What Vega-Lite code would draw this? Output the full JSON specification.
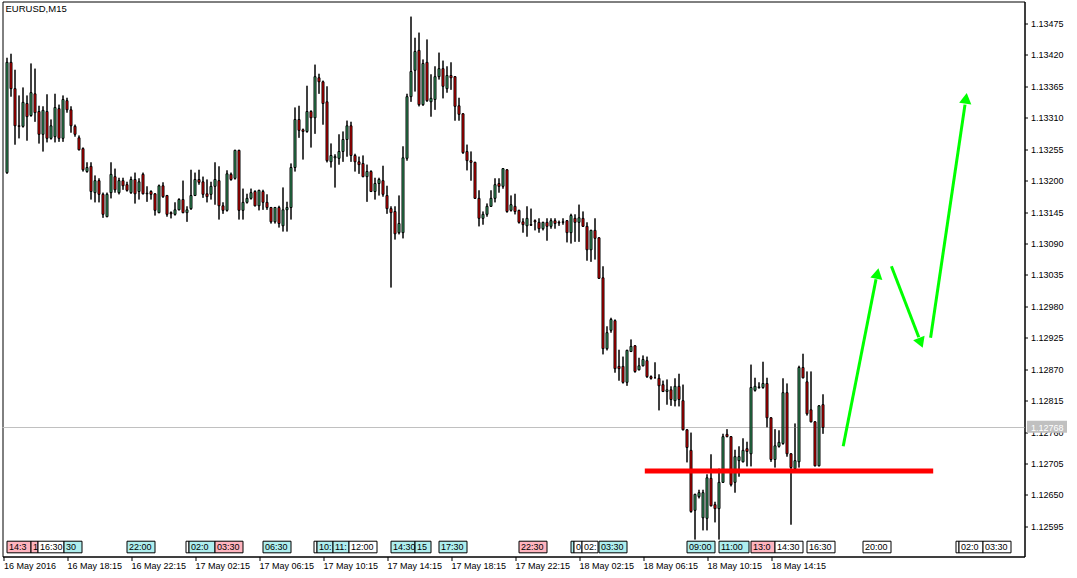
{
"$schema":"https://vega.github.io/schema/vega-lite/v6.json",
"width":1022,"height":555,
"autosize":{"type":"pad"},
"padding":{"left":1.5,"top":1.5,"right":0,"bottom":0},
"background":"white",
"title":{"text":"EURUSD,M15","anchor":"start","frame":"group","offset":-12,"dx":3,"fontSize":9.5,"fontWeight":"normal","font":"Liberation Sans","color":"black"},
"config":{"view":{"stroke":"black","strokeWidth":1},"font":"Liberation Sans"},
"datasets":{
"candles":[
{"i":0,"o":1.13214,"h":1.13415,"l":1.13212,"c":1.13407},
{"i":1,"o":1.13407,"h":1.13422,"l":1.13347,"c":1.13361},
{"i":2,"o":1.13361,"h":1.13394,"l":1.13263,"c":1.13296},
{"i":3,"o":1.13296,"h":1.13349,"l":1.13274,"c":1.13295},
{"i":4,"o":1.13295,"h":1.13363,"l":1.13293,"c":1.13337},
{"i":5,"o":1.13335,"h":1.13349,"l":1.13270,"c":1.13312},
{"i":6,"o":1.13314,"h":1.13405,"l":1.13312,"c":1.13354},
{"i":7,"o":1.13352,"h":1.13396,"l":1.13303,"c":1.13319},
{"i":8,"o":1.13321,"h":1.13331,"l":1.13265,"c":1.13281},
{"i":9,"o":1.13281,"h":1.13330,"l":1.13251,"c":1.13323},
{"i":10,"o":1.13321,"h":1.13351,"l":1.13267,"c":1.13274},
{"i":11,"o":1.13274,"h":1.13307,"l":1.13272,"c":1.13296},
{"i":12,"o":1.13277,"h":1.13352,"l":1.13267,"c":1.13328},
{"i":13,"o":1.13326,"h":1.13333,"l":1.13268,"c":1.13274},
{"i":14,"o":1.13274,"h":1.13349,"l":1.13268,"c":1.13342},
{"i":15,"o":1.13340,"h":1.13345,"l":1.13319,"c":1.13324},
{"i":16,"o":1.13324,"h":1.13330,"l":1.13284,"c":1.13296},
{"i":17,"o":1.13295,"h":1.13298,"l":1.13277,"c":1.13281},
{"i":18,"o":1.13275,"h":1.13279,"l":1.13253,"c":1.13254},
{"i":19,"o":1.13256,"h":1.13258,"l":1.13216,"c":1.13219},
{"i":20,"o":1.13216,"h":1.13232,"l":1.13214,"c":1.13223},
{"i":21,"o":1.13225,"h":1.13232,"l":1.13167,"c":1.13181},
{"i":22,"o":1.13179,"h":1.13209,"l":1.13162,"c":1.13200},
{"i":23,"o":1.13200,"h":1.13204,"l":1.13162,"c":1.13176},
{"i":24,"o":1.13176,"h":1.13179,"l":1.13135,"c":1.13141},
{"i":25,"o":1.13137,"h":1.13179,"l":1.13136,"c":1.13176},
{"i":26,"o":1.13179,"h":1.13232,"l":1.13169,"c":1.13211},
{"i":27,"o":1.13207,"h":1.13221,"l":1.13179,"c":1.13184},
{"i":28,"o":1.13179,"h":1.13205,"l":1.13176,"c":1.13200},
{"i":29,"o":1.13200,"h":1.13205,"l":1.13184,"c":1.13191},
{"i":30,"o":1.13193,"h":1.13198,"l":1.13181,"c":1.13183},
{"i":31,"o":1.13179,"h":1.13207,"l":1.13177,"c":1.13202},
{"i":32,"o":1.13202,"h":1.13214,"l":1.13160,"c":1.13177},
{"i":33,"o":1.13181,"h":1.13204,"l":1.13167,"c":1.13198},
{"i":34,"o":1.13211,"h":1.13214,"l":1.13176,"c":1.13177},
{"i":35,"o":1.13177,"h":1.13190,"l":1.13163,"c":1.13178},
{"i":36,"o":1.13181,"h":1.13183,"l":1.13167,"c":1.13176},
{"i":37,"o":1.13177,"h":1.13178,"l":1.13139,"c":1.13148},
{"i":38,"o":1.13144,"h":1.13193,"l":1.13143,"c":1.13191},
{"i":39,"o":1.13191,"h":1.13197,"l":1.13170,"c":1.13172},
{"i":40,"o":1.13174,"h":1.13175,"l":1.13137,"c":1.13141},
{"i":41,"o":1.13144,"h":1.13146,"l":1.13134,"c":1.13142},
{"i":42,"o":1.13141,"h":1.13162,"l":1.13139,"c":1.13149},
{"i":43,"o":1.13149,"h":1.13169,"l":1.13148,"c":1.13167},
{"i":44,"o":1.13167,"h":1.13200,"l":1.13143,"c":1.13144},
{"i":45,"o":1.13144,"h":1.13155,"l":1.13128,"c":1.13149},
{"i":46,"o":1.13151,"h":1.13219,"l":1.13149,"c":1.13174},
{"i":47,"o":1.13174,"h":1.13214,"l":1.13173,"c":1.13202},
{"i":48,"o":1.13202,"h":1.13219,"l":1.13193,"c":1.13197},
{"i":49,"o":1.13198,"h":1.13207,"l":1.13170,"c":1.13176},
{"i":50,"o":1.13177,"h":1.13202,"l":1.13162,"c":1.13172},
{"i":51,"o":1.13176,"h":1.13198,"l":1.13167,"c":1.13190},
{"i":52,"o":1.13190,"h":1.13232,"l":1.13158,"c":1.13202},
{"i":53,"o":1.13200,"h":1.13225,"l":1.13132,"c":1.13156},
{"i":54,"o":1.13156,"h":1.13162,"l":1.13142,"c":1.13148},
{"i":55,"o":1.13148,"h":1.13218,"l":1.13146,"c":1.13212},
{"i":56,"o":1.13211,"h":1.13214,"l":1.13200,"c":1.13202},
{"i":57,"o":1.13204,"h":1.13254,"l":1.13202,"c":1.13253},
{"i":58,"o":1.13253,"h":1.13254,"l":1.13132,"c":1.13148},
{"i":59,"o":1.13148,"h":1.13186,"l":1.13132,"c":1.13162},
{"i":60,"o":1.13162,"h":1.13177,"l":1.13160,"c":1.13169},
{"i":61,"o":1.13169,"h":1.13186,"l":1.13167,"c":1.13179},
{"i":62,"o":1.13181,"h":1.13183,"l":1.13155,"c":1.13156},
{"i":63,"o":1.13156,"h":1.13184,"l":1.13148,"c":1.13183},
{"i":64,"o":1.13181,"h":1.13184,"l":1.13149,"c":1.13162},
{"i":65,"o":1.13162,"h":1.13176,"l":1.13149,"c":1.13153},
{"i":66,"o":1.13153,"h":1.13154,"l":1.13125,"c":1.13128},
{"i":67,"o":1.13128,"h":1.13154,"l":1.13125,"c":1.13153},
{"i":68,"o":1.13153,"h":1.13156,"l":1.13118,"c":1.13125},
{"i":69,"o":1.13121,"h":1.13188,"l":1.13111,"c":1.13149},
{"i":70,"o":1.13149,"h":1.13163,"l":1.13111,"c":1.13153},
{"i":71,"o":1.13153,"h":1.13230,"l":1.13132,"c":1.13223},
{"i":72,"o":1.13223,"h":1.13328,"l":1.13216,"c":1.13307},
{"i":73,"o":1.13307,"h":1.13331,"l":1.13275,"c":1.13288},
{"i":74,"o":1.13289,"h":1.13291,"l":1.13237,"c":1.13286},
{"i":75,"o":1.13286,"h":1.13366,"l":1.13284,"c":1.13321},
{"i":76,"o":1.13321,"h":1.13323,"l":1.13258,"c":1.13310},
{"i":77,"o":1.13310,"h":1.13403,"l":1.13282,"c":1.13382},
{"i":78,"o":1.13380,"h":1.13387,"l":1.13352,"c":1.13373},
{"i":79,"o":1.13373,"h":1.13375,"l":1.13298,"c":1.13335},
{"i":80,"o":1.13338,"h":1.13365,"l":1.13232,"c":1.13235},
{"i":81,"o":1.13233,"h":1.13265,"l":1.13223,"c":1.13244},
{"i":82,"o":1.13240,"h":1.13246,"l":1.13188,"c":1.13242},
{"i":83,"o":1.13239,"h":1.13281,"l":1.13228,"c":1.13251},
{"i":84,"o":1.13251,"h":1.13286,"l":1.13233,"c":1.13272},
{"i":85,"o":1.13272,"h":1.13305,"l":1.13242,"c":1.13296},
{"i":86,"o":1.13296,"h":1.13303,"l":1.13233,"c":1.13244},
{"i":87,"o":1.13244,"h":1.13247,"l":1.13216,"c":1.13233},
{"i":88,"o":1.13233,"h":1.13242,"l":1.13212,"c":1.13228},
{"i":89,"o":1.13230,"h":1.13244,"l":1.13206,"c":1.13207},
{"i":90,"o":1.13207,"h":1.13228,"l":1.13163,"c":1.13216},
{"i":91,"o":1.13216,"h":1.13218,"l":1.13180,"c":1.13181},
{"i":92,"o":1.13181,"h":1.13205,"l":1.13167,"c":1.13195},
{"i":93,"o":1.13195,"h":1.13205,"l":1.13174,"c":1.13202},
{"i":94,"o":1.13200,"h":1.13226,"l":1.13172,"c":1.13176},
{"i":95,"o":1.13174,"h":1.13191,"l":1.13142,"c":1.13151},
{"i":96,"o":1.13151,"h":1.13155,"l":1.13013,"c":1.13144},
{"i":97,"o":1.13146,"h":1.13155,"l":1.13097,"c":1.13107},
{"i":98,"o":1.13109,"h":1.13174,"l":1.13106,"c":1.13125},
{"i":99,"o":1.13109,"h":1.13260,"l":1.13099,"c":1.13240},
{"i":100,"o":1.13239,"h":1.13352,"l":1.13235,"c":1.13347},
{"i":101,"o":1.13347,"h":1.13487,"l":1.13338,"c":1.13391},
{"i":102,"o":1.13393,"h":1.13450,"l":1.13356,"c":1.13426},
{"i":103,"o":1.13428,"h":1.13459,"l":1.13330,"c":1.13333},
{"i":104,"o":1.13333,"h":1.13412,"l":1.13331,"c":1.13405},
{"i":105,"o":1.13407,"h":1.13447,"l":1.13338,"c":1.13340},
{"i":106,"o":1.13338,"h":1.13386,"l":1.13312,"c":1.13344},
{"i":107,"o":1.13342,"h":1.13400,"l":1.13324,"c":1.13382},
{"i":108,"o":1.13382,"h":1.13424,"l":1.13377,"c":1.13396},
{"i":109,"o":1.13396,"h":1.13410,"l":1.13344,"c":1.13365},
{"i":110,"o":1.13361,"h":1.13400,"l":1.13354,"c":1.13384},
{"i":111,"o":1.13384,"h":1.13407,"l":1.13359,"c":1.13380},
{"i":112,"o":1.13382,"h":1.13383,"l":1.13305,"c":1.13330},
{"i":113,"o":1.13331,"h":1.13345,"l":1.13305,"c":1.13316},
{"i":114,"o":1.13317,"h":1.13318,"l":1.13247,"c":1.13249},
{"i":115,"o":1.13251,"h":1.13263,"l":1.13218,"c":1.13235},
{"i":116,"o":1.13235,"h":1.13251,"l":1.13200,"c":1.13232},
{"i":117,"o":1.13232,"h":1.13233,"l":1.13168,"c":1.13169},
{"i":118,"o":1.13169,"h":1.13183,"l":1.13120,"c":1.13134},
{"i":119,"o":1.13134,"h":1.13146,"l":1.13123,"c":1.13141},
{"i":120,"o":1.13141,"h":1.13160,"l":1.13137,"c":1.13155},
{"i":121,"o":1.13155,"h":1.13183,"l":1.13154,"c":1.13169},
{"i":122,"o":1.13169,"h":1.13204,"l":1.13162,"c":1.13193},
{"i":123,"o":1.13195,"h":1.13204,"l":1.13179,"c":1.13190},
{"i":124,"o":1.13190,"h":1.13222,"l":1.13186,"c":1.13221},
{"i":125,"o":1.13219,"h":1.13220,"l":1.13144,"c":1.13146},
{"i":126,"o":1.13148,"h":1.13174,"l":1.13146,"c":1.13158},
{"i":127,"o":1.13155,"h":1.13177,"l":1.13141,"c":1.13146},
{"i":128,"o":1.13148,"h":1.13149,"l":1.13125,"c":1.13127},
{"i":129,"o":1.13128,"h":1.13134,"l":1.13109,"c":1.13123},
{"i":130,"o":1.13121,"h":1.13155,"l":1.13102,"c":1.13134},
{"i":131,"o":1.13123,"h":1.13151,"l":1.13121,"c":1.13122},
{"i":132,"o":1.13130,"h":1.13132,"l":1.13113,"c":1.13128},
{"i":133,"o":1.13127,"h":1.13134,"l":1.13109,"c":1.13116},
{"i":134,"o":1.13116,"h":1.13128,"l":1.13113,"c":1.13127},
{"i":135,"o":1.13127,"h":1.13134,"l":1.13095,"c":1.13120},
{"i":136,"o":1.13120,"h":1.13134,"l":1.13116,"c":1.13130},
{"i":137,"o":1.13130,"h":1.13134,"l":1.13116,"c":1.13125},
{"i":138,"o":1.13127,"h":1.13130,"l":1.13121,"c":1.13126},
{"i":139,"o":1.13127,"h":1.13134,"l":1.13123,"c":1.13128},
{"i":140,"o":1.13130,"h":1.13131,"l":1.13092,"c":1.13109},
{"i":141,"o":1.13109,"h":1.13142,"l":1.13090,"c":1.13139},
{"i":142,"o":1.13134,"h":1.13141,"l":1.13093,"c":1.13127},
{"i":143,"o":1.13127,"h":1.13158,"l":1.13093,"c":1.13135},
{"i":144,"o":1.13134,"h":1.13146,"l":1.13119,"c":1.13120},
{"i":145,"o":1.13120,"h":1.13127,"l":1.13060,"c":1.13079},
{"i":146,"o":1.13079,"h":1.13114,"l":1.13058,"c":1.13113},
{"i":147,"o":1.13113,"h":1.13134,"l":1.13062,"c":1.13099},
{"i":148,"o":1.13100,"h":1.13101,"l":1.13028,"c":1.13029},
{"i":149,"o":1.13030,"h":1.13050,"l":1.12896,"c":1.12906},
{"i":150,"o":1.12906,"h":1.12945,"l":1.12903,"c":1.12934},
{"i":151,"o":1.12938,"h":1.12960,"l":1.12934,"c":1.12957},
{"i":152,"o":1.12955,"h":1.12957,"l":1.12864,"c":1.12871},
{"i":153,"o":1.12875,"h":1.12904,"l":1.12850,"c":1.12871},
{"i":154,"o":1.12875,"h":1.12892,"l":1.12845,"c":1.12847},
{"i":155,"o":1.12847,"h":1.12904,"l":1.12841,"c":1.12903},
{"i":156,"o":1.12901,"h":1.12922,"l":1.12900,"c":1.12910},
{"i":157,"o":1.12911,"h":1.12912,"l":1.12864,"c":1.12866},
{"i":158,"o":1.12869,"h":1.12890,"l":1.12868,"c":1.12876},
{"i":159,"o":1.12876,"h":1.12894,"l":1.12875,"c":1.12887},
{"i":160,"o":1.12885,"h":1.12892,"l":1.12855,"c":1.12857},
{"i":161,"o":1.12857,"h":1.12859,"l":1.12852,"c":1.12854},
{"i":162,"o":1.12855,"h":1.12882,"l":1.12854,"c":1.12855},
{"i":163,"o":1.12854,"h":1.12861,"l":1.12798,"c":1.12841},
{"i":164,"o":1.12843,"h":1.12850,"l":1.12830,"c":1.12831},
{"i":165,"o":1.12831,"h":1.12852,"l":1.12808,"c":1.12834},
{"i":166,"o":1.12834,"h":1.12840,"l":1.12806,"c":1.12817},
{"i":167,"o":1.12815,"h":1.12854,"l":1.12805,"c":1.12840},
{"i":168,"o":1.12840,"h":1.12862,"l":1.12805,"c":1.12817},
{"i":169,"o":1.12815,"h":1.12843,"l":1.12763,"c":1.12764},
{"i":170,"o":1.12764,"h":1.12765,"l":1.12707,"c":1.12733},
{"i":171,"o":1.12728,"h":1.12759,"l":1.12619,"c":1.12621},
{"i":172,"o":1.12623,"h":1.12652,"l":1.12572,"c":1.12651},
{"i":173,"o":1.12647,"h":1.12659,"l":1.12644,"c":1.12654},
{"i":174,"o":1.12610,"h":1.12659,"l":1.12588,"c":1.12654},
{"i":175,"o":1.12609,"h":1.12686,"l":1.12588,"c":1.12680},
{"i":176,"o":1.12679,"h":1.12721,"l":1.12630,"c":1.12631},
{"i":177,"o":1.12633,"h":1.12638,"l":1.12602,"c":1.12626},
{"i":178,"o":1.12626,"h":1.12696,"l":1.12572,"c":1.12672},
{"i":179,"o":1.12672,"h":1.12757,"l":1.12671,"c":1.12752},
{"i":180,"o":1.12756,"h":1.12765,"l":1.12751,"c":1.12752},
{"i":181,"o":1.12752,"h":1.12753,"l":1.12665,"c":1.12668},
{"i":182,"o":1.12672,"h":1.12729,"l":1.12654,"c":1.12717},
{"i":183,"o":1.12710,"h":1.12735,"l":1.12682,"c":1.12717},
{"i":184,"o":1.12708,"h":1.12749,"l":1.12707,"c":1.12728},
{"i":185,"o":1.12731,"h":1.12743,"l":1.12700,"c":1.12726},
{"i":186,"o":1.12722,"h":1.12878,"l":1.12700,"c":1.12838},
{"i":187,"o":1.12833,"h":1.12855,"l":1.12831,"c":1.12840},
{"i":188,"o":1.12838,"h":1.12847,"l":1.12836,"c":1.12839},
{"i":189,"o":1.12838,"h":1.12883,"l":1.12836,"c":1.12845},
{"i":190,"o":1.12845,"h":1.12855,"l":1.12768,"c":1.12785},
{"i":191,"o":1.12785,"h":1.12786,"l":1.12708,"c":1.12712},
{"i":192,"o":1.12712,"h":1.12765,"l":1.12698,"c":1.12736},
{"i":193,"o":1.12735,"h":1.12763,"l":1.12733,"c":1.12742},
{"i":194,"o":1.12740,"h":1.12854,"l":1.12738,"c":1.12829},
{"i":195,"o":1.12829,"h":1.12845,"l":1.12717,"c":1.12722},
{"i":196,"o":1.12722,"h":1.12723,"l":1.12598,"c":1.12698},
{"i":197,"o":1.12696,"h":1.12775,"l":1.12695,"c":1.12710},
{"i":198,"o":1.12708,"h":1.12876,"l":1.12698,"c":1.12873},
{"i":199,"o":1.12873,"h":1.12897,"l":1.12854,"c":1.12855},
{"i":200,"o":1.12848,"h":1.12866,"l":1.12789,"c":1.12792},
{"i":201,"o":1.12799,"h":1.12866,"l":1.12777,"c":1.12778},
{"i":202,"o":1.12778,"h":1.12779,"l":1.12700,"c":1.12701},
{"i":203,"o":1.12701,"h":1.12807,"l":1.12700,"c":1.12806},
{"i":204,"o":1.12808,"h":1.12826,"l":1.12757,"c":1.12768}
],
"events":[
{"t":0,"t2":6,"label":"14:3","kind":"pink"},
{"t":6,"t2":7.75,"label":"1","kind":"pink"},
{"t":7.75,"t2":14.25,"label":"16:30","kind":"white"},
{"t":14.25,"t2":18.75,"label":"30","kind":"cyan"},
{"t":30,"t2":37,"label":"22:00","kind":"cyan"},
{"t":44.75,"t2":45.5,"label":"","kind":"white"},
{"t":45.5,"t2":52,"label":"02:0","kind":"cyan"},
{"t":52,"t2":59,"label":"03:30","kind":"pink"},
{"t":64,"t2":71,"label":"06:30","kind":"cyan"},
{"t":76.75,"t2":77.5,"label":"","kind":"white"},
{"t":77.5,"t2":81.5,"label":"10:","kind":"cyan"},
{"t":81.5,"t2":85.5,"label":"11:","kind":"cyan"},
{"t":85.5,"t2":92.5,"label":"12:00","kind":"white"},
{"t":96,"t2":102,"label":"14:30","kind":"cyan"},
{"t":102,"t2":106,"label":"15","kind":"cyan"},
{"t":108,"t2":115,"label":"17:30","kind":"cyan"},
{"t":128,"t2":135,"label":"22:30","kind":"pink"},
{"t":141,"t2":141.75,"label":"","kind":"cyan"},
{"t":141.75,"t2":143.75,"label":"0","kind":"white"},
{"t":143.75,"t2":147.75,"label":"02:","kind":"white"},
{"t":148,"t2":155,"label":"03:30","kind":"cyan"},
{"t":170,"t2":177,"label":"09:00","kind":"cyan"},
{"t":178,"t2":185.5,"label":"11:00","kind":"cyan"},
{"t":186,"t2":192,"label":"13:0","kind":"pink"},
{"t":192,"t2":199,"label":"14:30","kind":"white"},
{"t":200,"t2":207,"label":"16:30","kind":"white"},
{"t":214,"t2":221,"label":"20:00","kind":"white"},
{"t":237.25,"t2":238,"label":"","kind":"white"},
{"t":238,"t2":244,"label":"02:0","kind":"white"},
{"t":244,"t2":251,"label":"03:30","kind":"white"}
],
"arrows":[
{"seg":1,"i":209.05,"p":1.127353},{"seg":1,"i":217.25,"p":1.130275},
{"seg":2,"i":221.1,"p":1.130503},{"seg":2,"i":227.95,"p":1.12926},
{"seg":3,"i":230.9,"p":1.12925},{"seg":3,"i":239.5,"p":1.13333}
]
},
"resolve":{"axis":{"x":"independent","y":"independent"}},
"layer":[
{"data":{"name":"candles"},
 "mark":{"type":"rule","color":"black","strokeWidth":1},
 "encoding":{
  "x":{"field":"i","type":"quantitative","scale":{"domain":[-1.125,254.375],"nice":false,"zero":false,"padding":0},
   "axis":{"title":null,"grid":false,"values":[-0.875,15,31,47,63,79,95,111,127,143,159,175,191],"labelExpr":"['16 May 2016','16 May 18:15','16 May 22:15','17 May 02:15','17 May 06:15','17 May 10:15','17 May 14:15','17 May 18:15','17 May 22:15','18 May 02:15','18 May 06:15','18 May 10:15','18 May 14:15'][floor((datum.value + 1) / 16)]","tickSize":4,"tickColor":"black","domainColor":"black","labelColor":"black","labelFont":"Liberation Sans","labelFontSize":9,"labelAlign":"left","labelBaseline":"top","labelPadding":1,"labelOverlap":false,"labelFlush":false}},
  "y":{"field":"l","type":"quantitative","scale":{"domain":[1.1254225,1.135135],"nice":false,"zero":false},
   "axis":{"title":null,"grid":false,"orient":"right","values":[1.12595,1.1265,1.12705,1.1276,1.12815,1.1287,1.12925,1.1298,1.13035,1.1309,1.13145,1.132,1.13255,1.1331,1.13365,1.1342,1.13475],"format":".5f","tickSize":3,"tickColor":"black","domainColor":"black","labelColor":"black","labelFont":"Liberation Sans","labelFontSize":9,"labelPadding":3,"labelOverlap":false,"labelFlush":false}},
  "y2":{"field":"h"}}},
{"data":{"values":[{"p":1.12768}]},
 "mark":{"type":"rule","color":"#C0C0C0","strokeWidth":1},
 "encoding":{"y":{"field":"p","type":"quantitative","scale":{"domain":[1.1254225,1.135135],"nice":false,"zero":false},"axis":null}}},
{"data":{"name":"candles"},
 "mark":{"type":"rule","color":"black","strokeWidth":1},
 "encoding":{
  "x":{"field":"i","type":"quantitative","scale":{"domain":[-1.125,254.375],"nice":false,"zero":false,"padding":0},"axis":null},
  "y":{"field":"l","type":"quantitative","scale":{"domain":[1.1254225,1.135135],"nice":false,"zero":false},"axis":null},
  "y2":{"field":"h"}}},
{"data":{"name":"candles"},
 "mark":{"type":"bar","size":2,"stroke":"black","strokeWidth":1},
 "encoding":{
  "x":{"field":"i","type":"quantitative","scale":{"domain":[-1.125,254.375],"nice":false,"zero":false,"padding":0},"axis":null},
  "y":{"field":"o","type":"quantitative","scale":{"domain":[1.1254225,1.135135],"nice":false,"zero":false},"axis":null},
  "y2":{"field":"c"},
  "fill":{"condition":{"test":"datum.c > datum.o","value":"#3CB371"},"value":"#FF0000"}}},
{"data":{"name":"events"},
 "mark":{"type":"rect","stroke":"black","strokeWidth":1},
 "encoding":{
  "x":{"field":"t","type":"quantitative","scale":{"domain":[-1.125,254.375],"nice":false,"zero":false,"padding":0},"axis":null},
  "x2":{"field":"t2"},
  "y":{"datum":1.12569,"type":"quantitative","scale":{"domain":[1.1254225,1.135135],"nice":false,"zero":false},"axis":null},
  "y2":{"datum":1.125487},
  "fill":{"field":"kind","type":"nominal","scale":{"domain":["pink","cyan","white"],"range":["#FFB4BE","#AEEEEE","#FFFFFF"]},"legend":null}}},
{"data":{"name":"events"},
 "mark":{"type":"text","align":"left","baseline":"middle","dx":2,"fontSize":9,"font":"Liberation Sans","color":"black"},
 "encoding":{
  "x":{"field":"t","type":"quantitative","scale":{"domain":[-1.125,254.375],"nice":false,"zero":false,"padding":0},"axis":null},
  "y":{"datum":1.125588,"type":"quantitative","scale":{"domain":[1.1254225,1.135135],"nice":false,"zero":false},"axis":null},
  "text":{"field":"label"}}},
{"data":{"values":[{"i":159.45,"i2":231.55,"p":1.12692}]},
 "mark":{"type":"rule","color":"#FF0000","strokeWidth":5,"strokeCap":"butt"},
 "encoding":{
  "x":{"field":"i","type":"quantitative","scale":{"domain":[-1.125,254.375],"nice":false,"zero":false,"padding":0},"axis":null},
  "x2":{"field":"i2"},
  "y":{"field":"p","type":"quantitative","scale":{"domain":[1.1254225,1.135135],"nice":false,"zero":false},"axis":null}}},
{"data":{"name":"arrows"},
 "mark":{"type":"line","color":"#00FF00","strokeWidth":3},
 "encoding":{
  "x":{"field":"i","type":"quantitative","scale":{"domain":[-1.125,254.375],"nice":false,"zero":false,"padding":0},"axis":null},
  "y":{"field":"p","type":"quantitative","scale":{"domain":[1.1254225,1.135135],"nice":false,"zero":false},"axis":null},
  "detail":{"field":"seg","type":"nominal"}}},
{"data":{"values":[{"i":217.6,"p":1.130375}]},
 "mark":{"type":"point","shape":"triangle-up","angle":11.3,"filled":true,"color":"#00FF00","opacity":1,"size":150},
 "encoding":{
  "x":{"field":"i","type":"quantitative","scale":{"domain":[-1.125,254.375],"nice":false,"zero":false,"padding":0},"axis":null},
  "y":{"field":"p","type":"quantitative","scale":{"domain":[1.1254225,1.135135],"nice":false,"zero":false},"axis":null}}},
{"data":{"values":[{"i":228.45,"p":1.12916}]},
 "mark":{"type":"point","shape":"triangle-down","angle":-21.4,"filled":true,"color":"#00FF00","opacity":1,"size":150},
 "encoding":{
  "x":{"field":"i","type":"quantitative","scale":{"domain":[-1.125,254.375],"nice":false,"zero":false,"padding":0},"axis":null},
  "y":{"field":"p","type":"quantitative","scale":{"domain":[1.1254225,1.135135],"nice":false,"zero":false},"axis":null}}},
{"data":{"values":[{"i":239.75,"p":1.13344}]},
 "mark":{"type":"point","shape":"triangle-up","angle":8.2,"filled":true,"color":"#00FF00","opacity":1,"size":150},
 "encoding":{
  "x":{"field":"i","type":"quantitative","scale":{"domain":[-1.125,254.375],"nice":false,"zero":false,"padding":0},"axis":null},
  "y":{"field":"p","type":"quantitative","scale":{"domain":[1.1254225,1.135135],"nice":false,"zero":false},"axis":null}}},
{"data":{"values":[{"p":1.12768}]},
 "mark":{"type":"rect","color":"#C0C0C0"},
 "encoding":{
  "x":{"datum":255,"type":"quantitative","scale":{"domain":[-1.125,254.375],"nice":false,"zero":false,"padding":0},"axis":null},
  "x2":{"datum":265},
  "y":{"datum":1.1278,"type":"quantitative","scale":{"domain":[1.1254225,1.135135],"nice":false,"zero":false},"axis":null},
  "y2":{"datum":1.12759}}},
{"data":{"values":[{"p":1.12768}]},
 "mark":{"type":"text","align":"left","baseline":"middle","fontSize":9,"font":"Liberation Sans","color":"white"},
 "encoding":{
  "x":{"datum":256,"type":"quantitative","scale":{"domain":[-1.125,254.375],"nice":false,"zero":false,"padding":0},"axis":null},
  "y":{"field":"p","type":"quantitative","scale":{"domain":[1.1254225,1.135135],"nice":false,"zero":false},"axis":null},
  "text":{"field":"p","type":"quantitative","format":".5f"}}}
]
}
